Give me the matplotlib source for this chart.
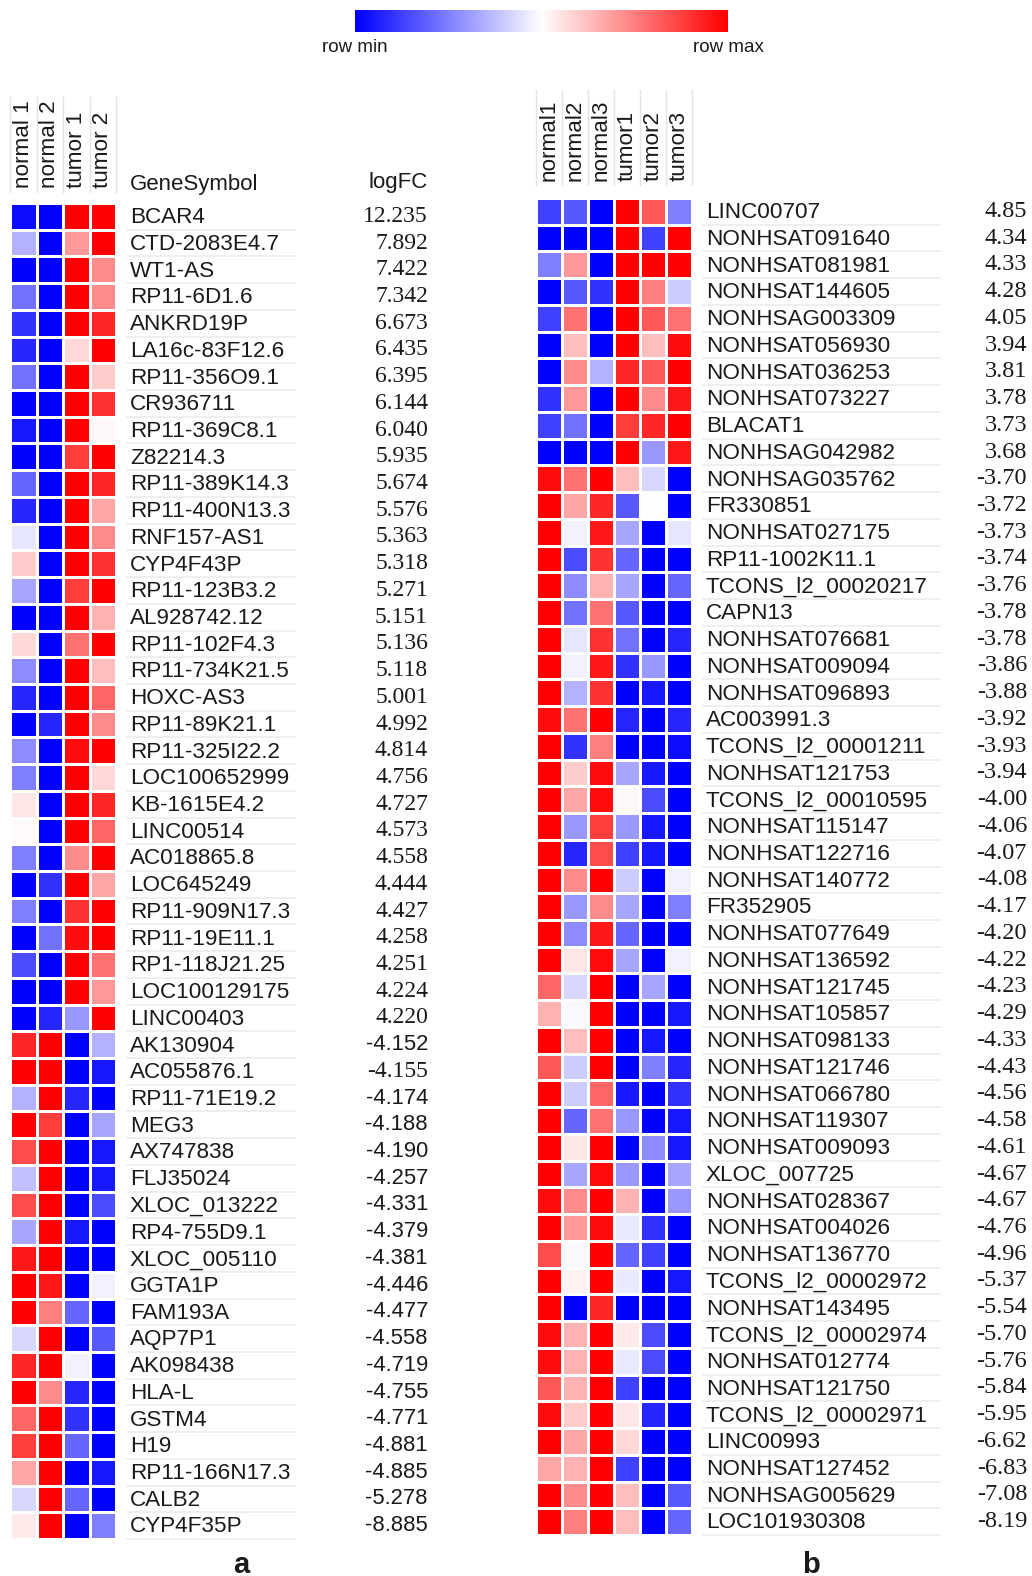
import numpy as np
import matplotlib
matplotlib.use("Agg")
import matplotlib.pyplot as plt
from matplotlib.colors import LinearSegmentedColormap
from matplotlib.transforms import blended_transform_factory
from matplotlib.lines import Line2D

# ---------------- panel a ----------------
samples_a = ["normal 1", "normal 2", "tumor 1", "tumor 2"]
genes_a = ["BCAR4", "CTD-2083E4.7", "WT1-AS", "RP11-6D1.6", "ANKRD19P", "LA16c-83F12.6",
           "RP11-356O9.1", "CR936711", "RP11-369C8.1", "Z82214.3", "RP11-389K14.3",
           "RP11-400N13.3", "RNF157-AS1", "CYP4F43P", "RP11-123B3.2", "AL928742.12",
           "RP11-102F4.3", "RP11-734K21.5", "HOXC-AS3", "RP11-89K21.1", "RP11-325I22.2",
           "LOC100652999", "KB-1615E4.2", "LINC00514", "AC018865.8", "LOC645249",
           "RP11-909N17.3", "RP11-19E11.1", "RP1-118J21.25", "LOC100129175", "LINC00403",
           "AK130904", "AC055876.1", "RP11-71E19.2", "MEG3", "AX747838", "FLJ35024",
           "XLOC_013222", "RP4-755D9.1", "XLOC_005110", "GGTA1P", "FAM193A", "AQP7P1",
           "AK098438", "HLA-L", "GSTM4", "H19", "RP11-166N17.3", "CALB2", "CYP4F35P"]
logfc_a = [12.235, 7.892, 7.422, 7.342, 6.673, 6.435, 6.395, 6.144, 6.040, 5.935, 5.674,
           5.576, 5.363, 5.318, 5.271, 5.151, 5.136, 5.118, 5.001, 4.992, 4.814, 4.756,
           4.727, 4.573, 4.558, 4.444, 4.427, 4.258, 4.251, 4.224, 4.220,
           -4.152, -4.155, -4.174, -4.188, -4.190, -4.257, -4.331, -4.379, -4.381,
           -4.446, -4.477, -4.558, -4.719, -4.755, -4.771, -4.881, -4.885, -5.278, -8.885]
# row-scaled expression (-1 = row min, +1 = row max)
scaled_a = [
    [-0.95, -1, 1, 1], [-0.3, -1, 0.4, 1], [-1, -1, 1, 0.45], [-0.55, -1, 1, 0.45],
    [-0.8, -1, 1, 0.85], [-0.85, -1, 0.15, 1], [-0.55, -1, 1, 0.2], [-1, -1, 1, 0.8],
    [-0.9, -1, 1, 0.03], [-1, -1, 0.75, 1], [-0.6, -1, 1, 0.85], [-0.85, -1, 1, 0.35],
    [-0.1, -1, 1, 0.45], [0.2, -1, 1, 0.8], [-0.35, -1, 0.75, 1], [-1, -1, 1, 0.3],
    [0.15, -1, 0.55, 1], [-0.45, -1, 1, 0.25], [-0.85, -1, 1, 0.6], [-1, -0.85, 1, 0.45],
    [-0.45, -1, 0.95, 1], [-0.5, -1, 1, 0.15], [0.1, -1, 1, 0.85], [0.02, -1, 1, 0.6],
    [-0.5, -1, 0.45, 1], [-1, -0.8, 1, 0.35], [-0.5, -1, 0.8, 1], [-1, -0.55, 0.95, 1],
    [-0.7, -1, 1, 0.55], [-1, -1, 1, 0.4], [-1, -0.85, -0.4, 1],
    [0.85, 1, -1, -0.3], [1, 1, -1, -0.9], [-0.3, 1, -0.85, -1], [1, 0.75, -1, -0.35],
    [0.7, 1, -1, -0.9], [-0.25, 1, -1, -0.9], [0.7, 1, -1, -0.7], [-0.35, 1, -0.9, -1],
    [0.9, 1, -1, -1], [1, 0.9, -1, -0.05], [1, 0.5, -0.6, -1], [-0.15, 1, -1, -0.65],
    [0.85, 1, -0.05, -1], [1, 0.45, -0.85, -1], [0.6, 1, -0.8, -1], [0.75, 1, -0.6, -1],
    [0.35, 1, -1, -0.9], [-0.15, 1, -0.6, -1], [0.08, 1, -1, -0.5],
]

# ---------------- panel b ----------------
samples_b = ["normal1", "normal2", "normal3", "tumor1", "tumor2", "tumor3"]
genes_b = ["LINC00707", "NONHSAT091640", "NONHSAT081981", "NONHSAT144605", "NONHSAG003309",
           "NONHSAT056930", "NONHSAT036253", "NONHSAT073227", "BLACAT1", "NONHSAG042982",
           "NONHSAG035762", "FR330851", "NONHSAT027175", "RP11-1002K11.1",
           "TCONS_l2_00020217", "CAPN13", "NONHSAT076681", "NONHSAT009094", "NONHSAT096893",
           "AC003991.3", "TCONS_l2_00001211", "NONHSAT121753", "TCONS_l2_00010595",
           "NONHSAT115147", "NONHSAT122716", "NONHSAT140772", "FR352905", "NONHSAT077649",
           "NONHSAT136592", "NONHSAT121745", "NONHSAT105857", "NONHSAT098133",
           "NONHSAT121746", "NONHSAT066780", "NONHSAT119307", "NONHSAT009093",
           "XLOC_007725", "NONHSAT028367", "NONHSAT004026", "NONHSAT136770",
           "TCONS_l2_00002972", "NONHSAT143495", "TCONS_l2_00002974", "NONHSAT012774",
           "NONHSAT121750", "TCONS_l2_00002971", "LINC00993", "NONHSAT127452",
           "NONHSAG005629", "LOC101930308"]
logfc_b = [4.85, 4.34, 4.33, 4.28, 4.05, 3.94, 3.81, 3.78, 3.73, 3.68,
           -3.70, -3.72, -3.73, -3.74, -3.76, -3.78, -3.78, -3.86, -3.88, -3.92,
           -3.93, -3.94, -4.00, -4.06, -4.07, -4.08, -4.17, -4.20, -4.22, -4.23,
           -4.29, -4.33, -4.43, -4.56, -4.58, -4.61, -4.67, -4.67, -4.76, -4.96,
           -5.37, -5.54, -5.70, -5.76, -5.84, -5.95, -6.62, -6.83, -7.08, -8.19]
scaled_b = [
    [-0.75, -0.65, -1, 1, 0.65, -0.5], [-1, -1, -1, 1, -0.75, 1],
    [-0.5, 0.4, -1, 1, 1, 1], [-1, -0.65, -0.8, 1, 0.5, -0.2],
    [-0.75, 0.55, -1, 1, 0.65, 0.55], [-1, 0.25, -1, 1, 0.25, 0.95],
    [-1, 0.45, -0.3, 0.85, 0.65, 1], [-0.8, 0.4, -1, 1, 0.45, 0.9],
    [-0.75, -0.55, -1, 0.75, 0.85, 1], [-1, -1, -1, 1, -0.4, 0.9],
    [0.95, 0.55, 1, 0.25, -0.15, -1], [1, 0.35, 0.85, -0.65, 0.0, -1],
    [1, -0.05, 0.9, -0.35, -1, -0.1], [1, -0.7, 0.8, -0.6, -1, -1],
    [1, -0.45, 0.3, -0.35, -1, -0.6], [1, -0.55, 0.55, -0.65, -1, -1],
    [1, -0.1, 0.8, -0.55, -1, -0.85], [1, -0.05, 0.9, -0.8, -0.4, -1],
    [1, -0.3, 0.8, -1, -0.9, -1], [0.95, 0.55, 1, -0.85, -1, -0.85],
    [1, -0.8, 0.5, -1, -1, -0.95], [1, 0.2, 0.95, -0.35, -0.9, -1],
    [1, 0.35, 0.95, 0.03, -0.7, -1], [1, -0.4, 0.75, -0.4, -0.9, -1],
    [1, -0.85, 0.7, -0.75, -0.9, -1], [1, 0.45, 1, -0.2, -1, -0.05],
    [1, -0.4, 0.45, -0.35, -1, -0.5], [1, -0.45, 0.9, -0.6, -1, -1],
    [1, 0.1, 0.95, -0.35, -1, -0.05], [0.6, -0.15, 1, -1, -0.35, -1],
    [0.3, -0.03, 1, -1, -1, -0.9], [1, 0.25, 1, -1, -0.9, -1],
    [0.65, -0.2, 1, -1, -0.5, -0.85], [1, -0.2, 0.6, -0.9, -1, -0.8],
    [1, -0.6, 0.55, -0.4, -1, -0.9], [1, 0.1, 1, -1, -0.45, -0.9],
    [1, -0.35, 0.95, -0.4, -1, -0.35], [0.95, 0.45, 1, 0.3, -1, -0.4],
    [1, 0.4, 0.95, -0.08, -0.8, -1], [0.7, -0.03, 1, -0.6, -0.75, -1],
    [1, 0.05, 1, -0.08, -1, -0.9], [1, -1, 0.85, -1, -1, -1],
    [0.95, 0.3, 1, 0.08, -0.7, -1], [0.95, 0.3, 1, -0.08, -0.7, -1],
    [0.65, 0.3, 1, -0.75, -1, -1], [0.95, 0.2, 1, 0.1, -0.85, -1],
    [1, 0.35, 1, 0.15, -1, -1], [0.35, 0.3, 1, -0.75, -1, -1],
    [1, 0.45, 1, 0.25, -1, -0.65], [1, 0.5, 1, 0.25, -1, -0.6],
]

W, H = 1032, 1576
fig = plt.figure(figsize=(W / 100, H / 100), dpi=100)
fig.patch.set_facecolor("white")

cmap = LinearSegmentedColormap.from_list("rowscale", ["#0000ff", "#ffffff", "#ff0000"])
SANS = ["Liberation Sans", "DejaVu Sans"]
SERIF = ["Liberation Serif", "DejaVu Serif"]
TXT = "#1a1a1a"


def fx(px):
    return px / W


def fy(py):
    return 1 - py / H


def heat_panel(rect_px, data, samples, genes, logfc, label_x, line_x1, value_x, fmt,
               header_bottom, header_top, value_font):
    x0, y0, x1, y1 = rect_px
    ax = fig.add_axes([fx(x0), fy(y1), (x1 - x0) / W, (y1 - y0) / H])
    arr = np.array(data)
    nrow, ncol = arr.shape
    ax.pcolormesh(np.arange(ncol + 1), np.arange(nrow + 1), arr, cmap=cmap,
                  vmin=-1, vmax=1, edgecolors="white", linewidth=1.8)
    ax.set_xlim(0, ncol)
    ax.set_ylim(nrow, 0)
    ax.axis("off")

    row_tr = blended_transform_factory(fig.transFigure, ax.transData)
    for i, (g, v) in enumerate(zip(genes, logfc)):
        ax.text(fx(label_x), i + 0.55, g, transform=row_tr, ha="left", va="center",
                fontsize=16.2, family=SANS, color=TXT, clip_on=False)
        fam, size = value_font(i, v)
        ax.text(fx(value_x), i + 0.5, format(v, fmt), transform=row_tr, ha="right",
                va="center", fontsize=size, family=fam, color=TXT, clip_on=False)
        ax.add_line(Line2D([fx(label_x - 3), fx(line_x1)], [i + 1, i + 1],
                           transform=row_tr, color="#ececec", lw=1.2, clip_on=False))

    col_tr = blended_transform_factory(ax.transData, fig.transFigure)
    for j, s in enumerate(samples):
        ax.text(j + 0.5, fy(header_bottom), s, transform=col_tr, rotation=90,
                ha="center", va="bottom", fontsize=16.2, family=SANS, color=TXT,
                clip_on=False)
    for j in range(ncol + 1):
        ax.add_line(Line2D([j, j], [fy(header_bottom + 4), fy(header_top)],
                           transform=col_tr, color="#e4e4e4", lw=1.0, clip_on=False))
    return ax


def font_a(i, v):
    # the down-regulated block of table a is set in a sans face
    if v < 0 and i != 32:
        return SANS, 15.8
    return SERIF, 17


def font_b(i, v):
    return SERIF, 17.5


ax_a = heat_panel((10, 203, 116, 1539), scaled_a, samples_a, genes_a, logfc_a,
                  label_x=130, line_x1=295, value_x=428, fmt=".3f",
                  header_bottom=188, header_top=97, value_font=font_a)
ax_b = heat_panel((536, 198, 692, 1535), scaled_b, samples_b, genes_b, logfc_b,
                  label_x=706, line_x1=940, value_x=1027, fmt=".2f",
                  header_bottom=181, header_top=90, value_font=font_b)

fig.text(fx(130), fy(190), "GeneSymbol", ha="left", va="baseline", fontsize=16,
         family=SANS, color=TXT)
fig.text(fx(428), fy(188), "logFC", ha="right", va="baseline", fontsize=16,
         family=SANS, color=TXT)

# colour key
cax = fig.add_axes([fx(355), fy(32), (728 - 355) / W, 22 / H])
cax.imshow(np.linspace(-1, 1, 512)[None, :], cmap=cmap, aspect="auto", vmin=-1, vmax=1)
cax.axis("off")
fig.text(fx(355), fy(47), "row min", ha="center", va="center", fontsize=13.5,
         family=SANS, color=TXT)
fig.text(fx(728), fy(47), "row max", ha="center", va="center", fontsize=13.5,
         family=SANS, color=TXT)

fig.text(fx(241), fy(1565), "a", ha="center", va="center", fontsize=21,
         fontweight="bold", family=SANS, color=TXT)
fig.text(fx(811), fy(1565), "b", ha="center", va="center", fontsize=21,
         fontweight="bold", family=SANS, color=TXT)

fig.savefig("out.png", dpi=100, facecolor="white")
